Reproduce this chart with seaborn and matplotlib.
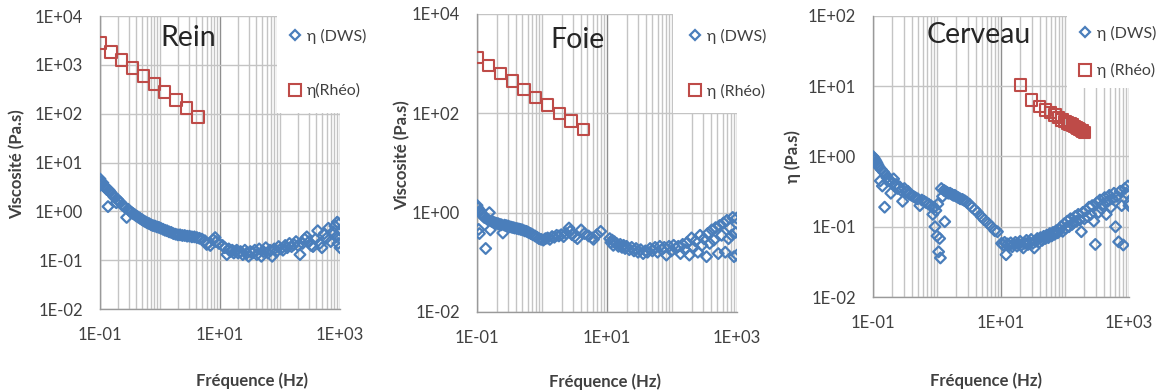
import matplotlib
matplotlib.use("Agg")
import matplotlib.pyplot as plt
import matplotlib.ticker as mticker
from matplotlib.patches import Rectangle
from matplotlib.lines import Line2D
import seaborn as sns

# --- data ---
rheo_f = [0.10, 0.152, 0.23, 0.35, 0.53, 0.80, 1.2, 1.85, 2.8, 4.3]

rein_rheo_v = [2800, 1830, 1250, 860, 590, 405, 277, 190, 130, 86]
foie_rheo_v = [1340, 910, 640, 446, 305, 210, 147, 100, 70, 48]

cerv_rheo_f = [20, 30, 40, 50, 60, 70, 80, 90, 100, 110, 120, 130, 140, 150,
               160, 170, 180, 190, 200]
cerv_rheo_v = [10.4, 6.4, 5.1, 4.6, 4.2, 3.9, 3.6, 3.3, 3.15, 3.0, 2.9, 2.8,
               2.7, 2.6, 2.5, 2.4, 2.35, 2.3, 2.2]

rein_dws_f = [0.100, 0.100, 0.104, 0.108, 0.112, 0.116, 0.120, 0.125, 0.130, 0.136,
              0.142, 0.148, 0.155, 0.162, 0.170, 0.178, 0.187, 0.197, 0.208, 0.220,
              0.233, 0.247, 0.262, 0.278, 0.295, 0.314, 0.334, 0.356, 0.380, 0.406,
              0.434, 0.464, 0.497, 0.533, 0.572, 0.614, 0.660, 0.710, 0.764, 0.823,
              0.887, 0.956, 1.03, 1.12, 1.21, 1.31, 1.42, 1.54, 1.67, 1.82,
              1.98, 2.16, 2.36, 2.58, 2.83, 3.10, 3.40, 3.74, 4.12, 4.55,
              5.0, 5.6, 6.0, 6.2, 6.9, 7.7, 8.3, 8.6, 9.6,
              11, 12, 13, 14, 15, 16, 17, 18, 19, 20,
              22, 24, 26, 28, 30, 32, 35, 38, 41, 45,
              49, 53, 58, 63, 68, 74, 80, 87, 95, 103,
              112, 122, 132, 144, 156, 170, 185, 200, 215, 237,
              258, 280, 305, 330, 355, 390, 425, 460, 500, 545,
              590, 640, 700, 760, 820, 860, 900, 930, 960, 1000, 1000]
rein_dws_v = [3.4, 4.6, 4.0, 3.6, 3.8, 3.3, 3.2, 3.0, 2.8, 1.25,
              2.7, 2.5, 2.3, 2.2, 2.0, 1.9, 1.5, 1.75, 1.6, 1.5,
              1.35, 1.3, 1.2, 0.75, 1.1, 1.0, 0.95, 0.9, 0.85, 0.8,
              0.76, 0.72, 0.68, 0.64, 0.61, 0.58, 0.56, 0.53, 0.51, 0.50,
              0.48, 0.47, 0.45, 0.43, 0.41, 0.40, 0.38, 0.37, 0.35, 0.34,
              0.33, 0.33, 0.32, 0.32, 0.31, 0.31, 0.30, 0.30, 0.29, 0.28,
              0.27, 0.25, 0.21, 0.22, 0.20, 0.26, 0.29, 0.24, 0.22,
              0.20, 0.18, 0.13, 0.17, 0.15, 0.16, 0.14, 0.15, 0.16, 0.14,
              0.15, 0.13, 0.16, 0.14, 0.12, 0.15, 0.14, 0.16, 0.13, 0.17,
              0.12, 0.15, 0.18, 0.14, 0.16, 0.12, 0.17, 0.15, 0.19, 0.17,
              0.16, 0.20, 0.18, 0.22, 0.19, 0.21, 0.24, 0.20, 0.13, 0.22,
              0.27, 0.30, 0.24, 0.20, 0.19, 0.27, 0.40, 0.22, 0.18, 0.35,
              0.28, 0.45, 0.24, 0.38, 0.50, 0.30, 0.60, 0.22, 0.55, 0.28, 0.18]

foie_dws_f = [0.100, 0.103, 0.106, 0.109, 0.112, 0.116, 0.120, 0.125, 0.130, 0.136,
              0.142, 0.148, 0.155, 0.160, 0.165, 0.172, 0.180, 0.190, 0.200, 0.212,
              0.225, 0.238, 0.250, 0.265, 0.28, 0.30, 0.32, 0.34, 0.36, 0.38,
              0.41, 0.44, 0.47, 0.50, 0.54, 0.58, 0.62, 0.67, 0.72, 0.78,
              0.84, 0.90, 0.97, 1.05, 1.13, 1.22, 1.32, 1.43, 1.55, 1.68,
              1.82, 1.98, 2.15, 2.35, 2.6, 2.7, 2.9, 3.2, 3.5, 4.0,
              4.5, 5.2, 5.9, 6.2, 7.0, 8.0,
              11, 11.5, 12, 12.5, 13, 14, 15, 16, 17, 18,
              19, 20, 22, 24, 26, 28, 30, 33, 36, 39,
              42, 46, 50, 55, 60, 65, 70, 76, 82, 90,
              98, 106, 115, 125, 135, 146, 158, 170, 185, 200,
              215, 230, 250, 270, 290, 310, 340, 355, 380, 410,
              440, 470, 515, 540, 580, 620, 660, 700, 740, 780,
              825, 860, 900, 950, 990, 1000]
foie_dws_v = [1.4, 1.25, 0.46, 0.38, 1.1, 1.0, 0.9, 0.85, 0.8, 0.19,
              0.75, 0.72, 1.0, 0.45, 0.68, 0.66, 0.64, 0.62, 0.61, 0.60,
              0.58, 0.57, 0.39, 0.56, 0.55, 0.54, 0.52, 0.51, 0.50, 0.49,
              0.48, 0.47, 0.46, 0.45, 0.43, 0.42, 0.40, 0.38, 0.36, 0.34,
              0.32, 0.30, 0.29, 0.28, 0.30, 0.31, 0.29, 0.33, 0.32, 0.35,
              0.34, 0.36, 0.33, 0.38, 0.49, 0.42, 0.36, 0.33, 0.30, 0.45,
              0.38, 0.34, 0.31, 0.29, 0.36, 0.42,
              0.30, 0.25, 0.28, 0.22, 0.26, 0.24, 0.21, 0.23, 0.20, 0.22,
              0.19, 0.21, 0.18, 0.20, 0.17, 0.19, 0.16, 0.18, 0.15, 0.17,
              0.16, 0.19, 0.17, 0.20, 0.16, 0.21, 0.18, 0.20, 0.14, 0.21,
              0.17, 0.22, 0.19, 0.21, 0.15, 0.23, 0.18, 0.25, 0.14, 0.31,
              0.20, 0.27, 0.16, 0.35, 0.22, 0.30, 0.13, 0.38, 0.24, 0.45,
              0.28, 0.50, 0.15, 0.55, 0.35, 0.62, 0.16, 0.70, 0.30, 0.50,
              0.35, 0.80, 0.13, 0.40, 0.78, 0.14]

cerv_dws_f = [0.100, 0.104, 0.108, 0.112, 0.116, 0.120, 0.125, 0.130, 0.135, 0.140,
              0.146, 0.152, 0.158, 0.165, 0.172, 0.180, 0.190, 0.200, 0.210, 0.220,
              0.230, 0.245, 0.260, 0.275, 0.290, 0.31, 0.33, 0.35, 0.37, 0.40,
              0.43, 0.46, 0.50, 0.54, 0.58, 0.63, 0.68, 0.74, 0.80, 0.86,
              0.90, 0.93, 0.96, 1.00, 1.03, 1.06, 1.10, 1.13, 1.32,
              1.17, 1.22, 1.28, 1.35, 1.42, 1.50, 1.60, 1.70, 1.80, 1.90,
              2.0, 2.15, 2.3, 2.5, 2.7, 2.9, 3.2, 3.5, 3.9, 4.3,
              4.9, 5.5, 6.3, 7.1, 8.0, 8.8,
              10.2, 10.8, 11.4, 12.0, 12.7, 13.4, 14.2, 15.0, 15.9, 16.8,
              17.8, 18.8, 19.9, 21, 22.3, 23.6, 25, 26.5, 28, 29.6,
              31.3, 33.1, 35, 37, 39.2, 41.5, 44, 46.5, 49.2, 52,
              55, 58, 62, 65, 69, 73, 77, 82, 87, 92,
              97, 103, 109, 115, 122, 129, 136, 144, 152, 161,
              170, 180, 190, 201, 213, 225, 238, 252, 266, 282,
              298, 315, 333, 352, 373, 394, 417, 441, 466, 493,
              521, 551, 583, 616, 651, 689, 728, 770, 814, 860,
              910, 960, 1000, 1000]
cerv_dws_v = [1.0, 0.95, 0.9, 0.85, 0.8, 0.75, 0.7, 0.45, 0.65, 0.38,
              0.6, 0.19, 0.55, 0.5, 0.45, 0.47, 0.3, 0.42, 0.48, 0.38,
              0.4, 0.35, 0.37, 0.33, 0.23, 0.35, 0.31, 0.32, 0.29, 0.28,
              0.27, 0.26, 0.25, 0.20, 0.24, 0.23, 0.22, 0.21, 0.20, 0.15,
              0.19, 0.10, 0.17, 0.074, 0.21, 0.044, 0.068, 0.036, 0.118,
              0.35, 0.27, 0.33, 0.32, 0.31, 0.30, 0.30, 0.29, 0.28, 0.28,
              0.27, 0.26, 0.25, 0.245, 0.235, 0.225, 0.21, 0.19, 0.175, 0.16,
              0.14, 0.125, 0.112, 0.10, 0.088, 0.085,
              0.058, 0.055, 0.060, 0.040, 0.057, 0.054, 0.059, 0.052, 0.056, 0.060,
              0.053, 0.057, 0.062, 0.055, 0.050, 0.058, 0.064, 0.056, 0.060, 0.066,
              0.058, 0.050, 0.062, 0.068, 0.060, 0.070, 0.064, 0.073, 0.068, 0.076,
              0.070, 0.080, 0.074, 0.083, 0.078, 0.088, 0.082, 0.092, 0.10, 0.086,
              0.11, 0.095, 0.12, 0.10, 0.13, 0.108, 0.115, 0.14, 0.12, 0.15,
              0.125, 0.085, 0.16, 0.13, 0.17, 0.14, 0.19, 0.15, 0.20, 0.12,
              0.056, 0.22, 0.16, 0.24, 0.18, 0.21, 0.26, 0.15, 0.23, 0.28,
              0.19, 0.25, 0.30, 0.10, 0.27, 0.061, 0.32, 0.20, 0.055, 0.35,
              0.30, 0.38, 0.22, 0.20]

BLUE = "#4a7ebb"
RED = "#be4b48"
GRID = "#c4c4c4"
TXT = "#404040"

sns.set_style("white")
plt.rcParams["font.family"] = ["Lato", "DejaVu Sans"]

W, H = 1163, 391
fig = plt.figure(figsize=(W / 100, H / 100), dpi=100)

panels = [
    dict(title="Rein", dws=(rein_dws_f, rein_dws_v), rheo=(rheo_f, rein_rheo_v),
         rheo_label="η(Rhéo)", ylabel="Viscosité (Pa.s)",
         box=(100, 16, 240, 293), yticks=[1e-2, 1e-1, 1, 1e1, 1e2, 1e3, 1e4],
         title_xy=(0.367, 0.925), xlab=(0.633, -0.215), ylab=(-0.31, 0.495),
         cover=(0.7375, 0.669), leg=(289, 29), lsp=2.45),
    dict(title="Foie", dws=(foie_dws_f, foie_dws_v), rheo=(rheo_f, foie_rheo_v),
         rheo_label="η (Rhéo)", ylabel="Viscosité (Pa.s)",
         box=(477, 14, 260, 298), yticks=[1e-2, 1, 1e2, 1e4],
         title_xy=(0.387, 0.913), xlab=(0.492, -0.205), ylab=(-0.255, 0.527),
         cover=(0.754, 0.668), leg=(689, 29), lsp=2.5),
    dict(title="Cerveau", dws=(cerv_dws_f, cerv_dws_v), rheo=(cerv_rheo_f, cerv_rheo_v),
         rheo_label="η (Rhéo)", ylabel="η (Pa.s)",
         box=(873, 16, 256, 281), yticks=[1e-2, 1e-1, 1, 1e1, 1e2],
         title_xy=(0.414, 0.932), xlab=(0.441, -0.27), ylab=(-0.282, 0.498),
         cover=(0.758, 0.744), leg=(1079, 26), lsp=1.38),
]

fmt = mticker.FuncFormatter(lambda v, _: f"{v:.0E}")

for p in panels:
    x0, y0, w, h = p["box"]
    ax = fig.add_axes([x0 / W, 1 - (y0 + h) / H, w / W, h / H])
    ax.set_xscale("log")
    ax.set_yscale("log")

    sns.scatterplot(x=p["dws"][0], y=p["dws"][1], marker="D", s=30,
                    facecolor="none", edgecolor=BLUE, linewidth=1.6, ax=ax, zorder=3)
    sns.scatterplot(x=p["rheo"][0], y=p["rheo"][1], marker="s", s=66,
                    facecolor="none", edgecolor=RED, linewidth=1.5, ax=ax, zorder=3)

    ax.set_xlim(0.1, 1000)
    ax.set_ylim(p["yticks"][0], p["yticks"][-1])
    ax.yaxis.set_major_locator(mticker.FixedLocator(p["yticks"]))
    ax.yaxis.set_minor_locator(mticker.NullLocator())
    ax.xaxis.set_major_locator(mticker.FixedLocator([0.1, 10, 1000]))
    ax.xaxis.set_minor_locator(mticker.LogLocator(base=10, subs=range(1, 10), numticks=20))
    ax.xaxis.set_major_formatter(fmt)
    ax.yaxis.set_major_formatter(fmt)
    ax.xaxis.set_minor_formatter(mticker.NullFormatter())

    ax.set_axisbelow(True)
    ax.grid(True, which="major", axis="y", color=GRID, lw=1)
    ax.grid(True, which="minor", axis="x", color=GRID, lw=1)
    ax.grid(True, which="major", axis="x", color="#8f8f8f", lw=1)

    for side in ("top", "right"):
        ax.spines[side].set_visible(False)
    for side in ("left", "bottom"):
        ax.spines[side].set_color("#9a9a9a")
        ax.spines[side].set_linewidth(1)
    ax.tick_params(which="major", length=3.5, width=1, color="#9a9a9a",
                   labelsize=12, labelcolor=TXT)
    ax.tick_params(axis="x", pad=9.5)
    ax.tick_params(axis="y", pad=8.5)
    ax.tick_params(which="minor", length=0)

    # white area of the legend box hiding the grid in the top-right corner
    cx, cy = p["cover"]
    ax.add_patch(Rectangle((cx, cy), 1 - cx + 0.01, 1 - cy + 0.01, transform=ax.transAxes,
                           facecolor="white", edgecolor="none", zorder=1, clip_on=False))

    ax.text(*p["title_xy"], p["title"], transform=ax.transAxes, ha="center", va="center",
            fontsize=20.5, color="#262626")

    ax.set_xlabel("Fréquence (Hz)", fontsize=12, fontweight="bold", color=TXT)
    ax.set_ylabel(p["ylabel"], fontsize=12, fontweight="bold", color=TXT)
    ax.xaxis.set_label_coords(*p["xlab"])
    ax.yaxis.set_label_coords(*p["ylab"])

    handles = [
        Line2D([], [], ls="none", marker="D", ms=5.4, mfc="none", mec=BLUE, mew=1.6),
        Line2D([], [], ls="none", marker="s", ms=8.1, mfc="none", mec=RED, mew=1.5),
    ]
    lx, ly = p["leg"]
    ax.legend(handles, ["η (DWS)", p["rheo_label"]], loc="upper left",
              bbox_to_anchor=(lx / W, 1 - ly / H), bbox_transform=fig.transFigure,
              frameon=False, borderpad=0, borderaxespad=0, handlelength=0.8,
              handletextpad=0.3, labelspacing=p["lsp"], fontsize=11.5, labelcolor=TXT)

fig.savefig("out.png", dpi=100)
